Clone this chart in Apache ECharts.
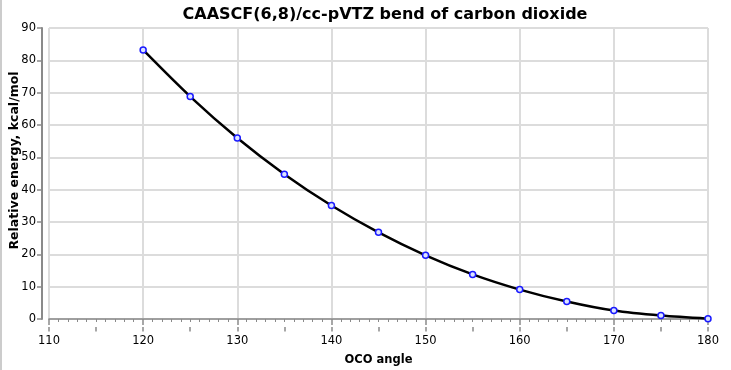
<!DOCTYPE html>
<html><head><meta charset="utf-8">
<script src="https://cdn.jsdelivr.net/npm/echarts@6/dist/echarts.min.js"></script>
<style>html,body{margin:0;padding:0;background:#fff}#c{width:731px;height:370px}</style>
</head><body><div id="c"></div>
<script>
const angles = [120,125,130,135,140,145,150,155,160,165,170,175,180];
const energies = [83.2,68.8,56.0,44.8,35.1,26.8,19.7,13.8,9.1,5.4,2.6,1.05,0.1];
const titleText = 'CAASCF(6,8)/cc-pVTZ bend of carbon dioxide';
const xName = 'OCO angle';
const yName = 'Relative energy, kcal/mol';

const font = 'DejaVu Sans';
const chart = echarts.init(document.getElementById('c'));
const axisGray = '#8a8a8a';
chart.setOption({
  animation: false,
  textStyle: {fontFamily: font},
  title: {text: titleText, left: 380, top: 2, textAlign: 'center',
    textStyle: {fontFamily: font, fontSize: 16, fontWeight: 'bold', color: '#000'}},
  grid: {left: 49, right: 23, top: 28, bottom: 51, outerBoundsMode: 'none', containLabel: false},
  xAxis: [{
    type: 'value', min: 110, max: 180, interval: 10, offset: 8,
    name: xName, nameLocation: 'middle', nameGap: 27, nameMoveOverlap: false,
    nameTextStyle: {fontFamily: font, fontSize: 11.5, fontWeight: 'bold', color: '#000'},
    axisLine: {show: true, lineStyle: {color: axisGray, width: 1.5}},
    axisTick: {show: true, length: 6, lineStyle: {color: axisGray, width: 1.5}},
    minorTick: {show: true, splitNumber: 10, length: 3, lineStyle: {color: axisGray}},
    axisLabel: {fontFamily: font, fontSize: 11.5, color: '#000', margin: 8},
    splitLine: {show: true, lineStyle: {color: '#dcdcdc', width: 2}}
  },{
    type: 'value', min: 110, max: 180, interval: 5, offset: 8, position: 'bottom',
    axisLine: {show: false},
    axisTick: {show: true, length: 4.5, lineStyle: {color: axisGray, width: 1.5}},
    axisLabel: {show: false}, splitLine: {show: false}
  }],
  yAxis: {
    type: 'value', min: 0, max: 90, interval: 10, offset: 7,
    name: yName, nameLocation: 'middle', nameGap: 21, nameRotate: 90, nameMoveOverlap: false,
    nameTextStyle: {fontFamily: font, fontSize: 12.5, fontWeight: 'bold', color: '#000', padding: [0, 0, 0, 26]},
    axisLine: {show: true, lineStyle: {color: axisGray, width: 2}},
    axisTick: {show: true, length: 5, lineStyle: {color: axisGray, width: 1.5}},
    axisLabel: {fontFamily: font, fontSize: 11.5, color: '#000', margin: 6},
    splitLine: {show: true, lineStyle: {color: '#dcdcdc', width: 2}}
  },
  graphic: [{type: 'line', shape: {x1: 1, y1: 0, x2: 1, y2: 370}, style: {stroke: '#999', lineWidth: 1}}],
  series: [{
    type: 'line', xAxisIndex: 0,
    data: angles.map((a, i) => [a, energies[i]]),
    smooth: 0.3,
    lineStyle: {color: '#000', width: 2.5},
    symbol: 'circle', symbolSize: 6, showSymbol: true,
    itemStyle: {color: '#dde4ff', borderColor: '#1a1aff', borderWidth: 1.5}
  }]
});
</script></body></html>
